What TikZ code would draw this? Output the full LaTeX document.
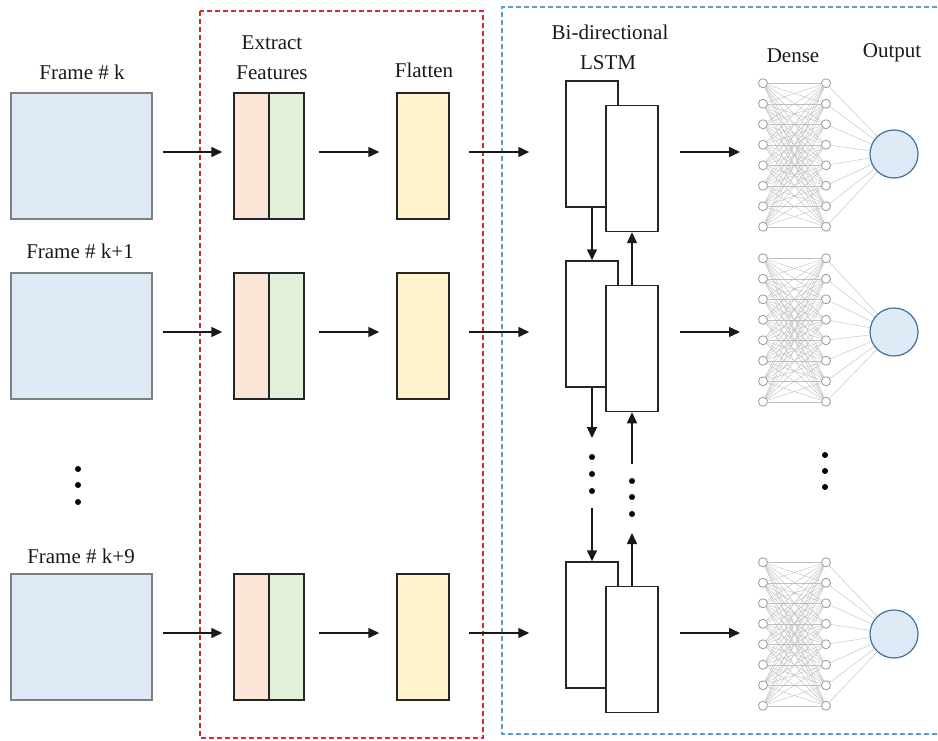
\documentclass[tikz,border=0pt]{standalone}
\usepackage{fontspec}
\setmainfont{Liberation Serif}
\usetikzlibrary{arrows.meta}
\definecolor{framefill}{RGB}{222,235,247}
\definecolor{frameline}{RGB}{127,127,127}
\definecolor{orangef}{RGB}{251,229,214}
\definecolor{greenf}{RGB}{226,240,217}
\definecolor{yellowf}{RGB}{255,242,204}
\definecolor{redd}{RGB}{225,35,50}
\definecolor{blued}{RGB}{91,155,213}
\definecolor{outline}{RGB}{65,113,156}
\begin{document}
\begin{tikzpicture}[x=1pt,y=-1pt,
  lbl/.style={font=\rmfamily\fontsize{21}{25}\selectfont, inner sep=0pt, text=black!90},
  framebox/.style={draw=frameline, fill=framefill, line width=1.4pt, minimum width=141pt, minimum height=126pt, inner sep=0pt},
  featbox/.style={draw=black!85, line width=1.5pt, minimum width=35pt, minimum height=126pt, inner sep=0pt},
  flatbox/.style={draw=black!85, fill=yellowf, line width=1.5pt, minimum width=52pt, minimum height=126pt, inner sep=0pt},
  lstmbox/.style={draw=black!85, fill=white, line width=1.5pt, minimum width=52pt, minimum height=126pt, inner sep=0pt},
  dn/.style={circle, draw=black!40, fill=white, line width=0.8pt, minimum size=9pt, inner sep=0pt},
  dl/.style={draw=black!25, line width=0.4pt},
  outc/.style={circle, draw=outline, fill=framefill, line width=1.2pt, minimum size=48pt, inner sep=0pt},
  arr/.style={draw=black!90, line width=1.5pt, -{Triangle[length=11pt,width=10pt]}},
  reddash/.style={draw=redd, line width=1.1pt, dash pattern=on 5pt off 3pt},
  bluedash/.style={draw=blued, line width=1.1pt, dash pattern=on 5pt off 3pt},
  dotf/.style={fill=black}
]
\useasboundingbox (0,0) rectangle (938,741);

% dashed group frames
\draw[reddash] (200,11) rectangle (483,738);
\draw[bluedash] (937,7) -- (502,7) -- (502,734) -- (937,734);

% labels
\node[lbl] (tk)  at (82,72) {Frame \# k};
\node[lbl] (tk1) at (80,251) {Frame \# k+1};
\node[lbl] (tk9) at (81,556) {Frame \# k+9};
\node[lbl] (tex) at (272,43) {Extract};
\node[lbl] (tfe) at (272,73) {Features};
\node[lbl] (tfl) at (424,70) {Flatten};
\node[lbl] (tbi) at (610,32) {Bi-directional};
\node[lbl] (tls) at (608,63) {LSTM};
\node[lbl] (tde) at (793,56) {Dense};
\node[lbl] (tou) at (892,53) {Output};

% rows
\foreach \row/\ay/\dc/\oy in {1/152/155/154, 2/332/330/332, 3/633/634/634}{
  \node[framebox] (f\row) at (81.5,{\ay+4}) {};
  \node[featbox, fill=orangef] (eo\row) at (251.5,{\ay+4}) {};
  \node[featbox, fill=greenf] (eg\row) at (286.5,{\ay+4}) {};
  \node[flatbox] (l\row) at (423,{\ay+4}) {};
  \node[lstmbox] (a\row) at (592,{\ay-8}) {};
  \node[lstmbox] (b\row) at (632,{\ay+16.5}) {};
  \coordinate (din\row) at (740,\ay);
  \draw[arr, shorten <=10pt, shorten >=11pt] ([yshift=4pt]f\row.east) -- ([yshift=4pt]eo\row.west);
  \draw[arr, shorten <=14pt, shorten >=17pt] ([yshift=4pt]eg\row.east) -- ([yshift=4pt]l\row.west);
  \draw[arr, shorten <=19pt, shorten >=36pt] ([yshift=4pt]l\row.east) -- ([yshift=-8pt]a\row.west);
  \draw[arr, shorten <=21pt] ([yshift=16.5pt]b\row.east) -- (din\row);
  % dense block
  \foreach \i in {1,...,8}{
    \node[dn] (d\row-l\i) at (763,{\dc+(\i-4.5)*20.5}) {};
    \node[dn] (d\row-r\i) at (826,{\dc+(\i-4.5)*20.5}) {};
  }
  \node[outc] (o\row) at (894,\oy) {};
  \foreach \i in {1,...,8}{
    \foreach \j in {1,...,8}{
      \draw[dl] (d\row-l\i) -- (d\row-r\j);
    }
    \draw[dl] (d\row-r\i) -- (o\row);
  }
}

% LSTM recurrent connections
\draw[arr] (a1.south) -- (a2.north);
\draw[arr] (b2.north) -- (b1.south);
\coordinate (ad1) at (592,438);
\coordinate (ad2) at (592,508);
\coordinate (bu1) at (632,533);
\coordinate (bu2) at (632,464);
\draw[arr] (a2.south) -- (ad1);
\draw[arr] (ad2) -- (a3.north);
\draw[arr] (b3.north) -- (bu1);
\draw[arr] (bu2) -- (b2.south);

% ellipsis dots
\foreach \y in {457,474,491} \fill[dotf] (592,\y) circle (3pt);
\foreach \y in {481,497,514} \fill[dotf] (632,\y) circle (3pt);
\foreach \y in {469,485,502} \fill[dotf] (78,\y) circle (3pt);
\foreach \y in {455,471,487} \fill[dotf] (825,\y) circle (3pt);
\end{tikzpicture}
\end{document}
